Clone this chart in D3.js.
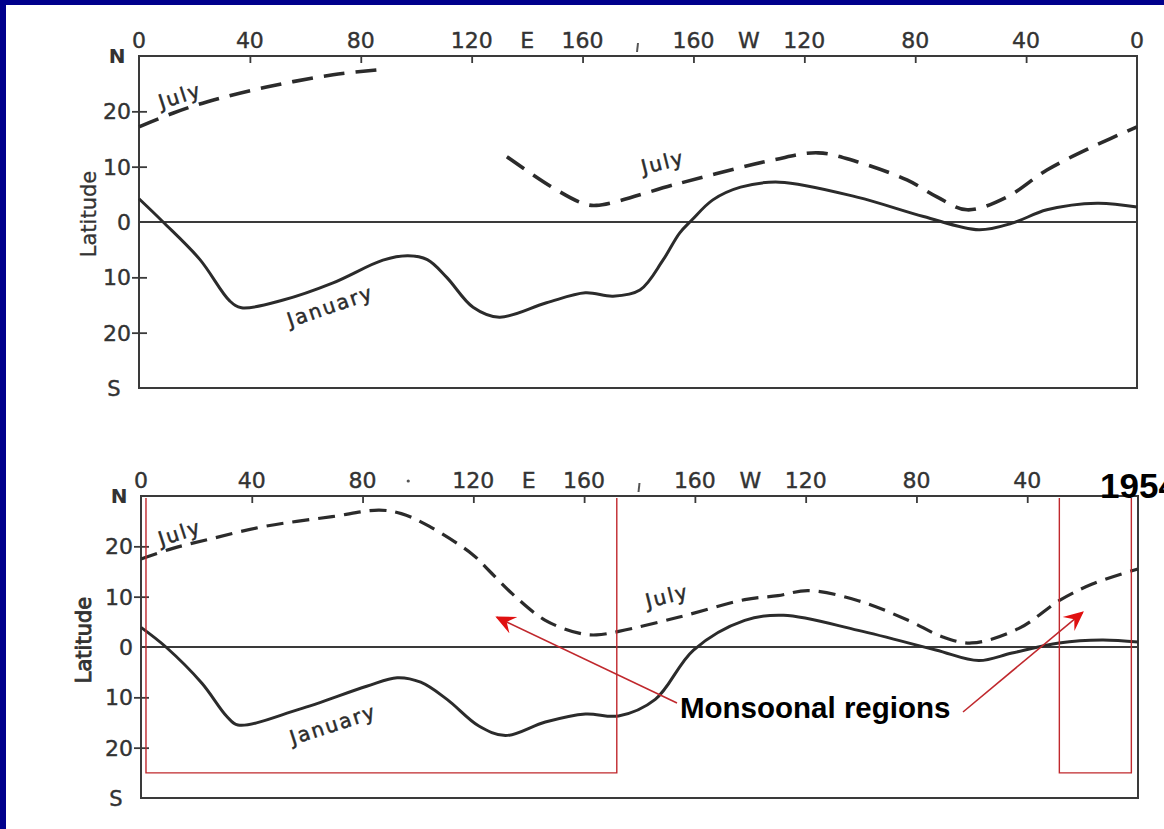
<!DOCTYPE html>
<html>
<head>
<meta charset="utf-8">
<script src="https://cdn.jsdelivr.net/npm/d3@7"></script>
<style>
  body { margin: 0; background: #00008c; }
  svg { display: block; }
</style>
</head>
<body>
<div id="chart"></div>
<script>
// ITCZ position, January vs July (two versions of the same figure)

// axis values
var lonTicks = [40, 80, 120, 160, 200, 240, 280, 320];
var lonLabelPos = [0, 40, 80, 120, 140, 160, 200, 220, 240, 280, 320, 360];
var lonLabelText = ["0", "40", "80", "120", "E", "160", "160", "W", "120", "80", "40", "0"];
var latTicks = [20, 10, -10, -20];
var latLabelPos = [20, 10, 0, -10, -20];

// upper figure: [longitude east of Greenwich, latitude]
var janTop = [[0, 4.2], [8.7, 0], [22, -6.8], [32.8, -14.3], [37, -15.5],
  [52, -14.1], [70, -11], [88, -6.9], [97, -6.1], [104, -6.8], [111, -10], [120.5, -15.4],
  [130, -17.2], [147, -14.6], [161, -12.8], [171, -13.4], [180.7, -12.3], [189, -6.9],
  [195, -2], [199.5, 0.4], [207, 4], [217, 6.3], [231, 7.2], [259, 4.5], [283, 1],
  [303, -1.4], [315, -0.2], [327.5, 2.2], [345.6, 3.4], [360, 2.7]];
var julTopA = [[0, 17.2], [12.4, 19.7], [24.4, 21.7], [46, 24.4], [70, 26.6], [86, 27.5]];
var julTopB = [[132.7, 11.8], [149, 6.3], [160, 3.4], [165, 3], [195, 7], [228.7, 11.2],
  [245, 12.5], [259, 10.9], [277, 7.6], [288, 4.5], [298.7, 2.2], [313, 4.5],
  [327.5, 9.4], [344, 13.6], [360, 17.2]];

// lower figure
var janBot = [[0, 3.9], [9, 0], [22, -7.2], [31, -13.8], [35, -15.5], [57, -12.4],
  [81.5, -7.8], [92.5, -6.1], [101, -7], [110.5, -10.4], [122, -15.7], [131.6, -17.6],
  [146, -14.9], [160.5, -13.3], [172.4, -13.7], [185.7, -10.4], [199.5, -0.6], [218, 5.3],
  [232, 6.3], [259, 3.3], [287, -0.6], [302.5, -2.7], [314.5, -1.2], [331.5, 0.8],
  [347, 1.4], [360, 1.0]];
var julBot = [[0, 17.5], [11.5, 19.6], [26, 21.6], [45, 24], [69, 25.9], [86, 27.2],
  [94, 26.5], [104, 24], [119.7, 18.4], [125.8, 15.1], [134, 10.6], [146, 5.3],
  [158.5, 2.7], [164.5, 2.4], [172.5, 3.1], [194, 5.9], [218, 9.4], [230, 10.2],
  [241, 11.2], [259, 9.2], [277, 5.3], [289.5, 2], [300, 0.8], [317, 3.7],
  [331.5, 9.2], [343.5, 12.5], [360, 15.5]];

// monsoonal regions (lon ranges, lower latitude edge)
var monsoonBoxes = [[1.8, 171.8], [331.6, 357.6]];
var monsoonFloor = -25;
var arrowTips = [[128.5, 5.9], [340, 6.9]];

var W = 1164, H = 829;
var ink = "#2b2b2b";

var svg = d3.select("#chart").append("svg")
  .attr("width", W)
  .attr("height", H);

svg.append("rect")
  .attr("x", 6).attr("y", 5)
  .attr("width", W - 6).attr("height", H - 5)
  .attr("fill", "#ffffff");

function drawPanel (p) {
  var x = d3.scaleLinear().domain([0, 360]).range([p.x0, p.x1]);
  var y = d3.scaleLinear().domain([-30, 30]).range([p.y1, p.y0]);
  var g = svg.append("g");

  // frame
  g.append("rect")
    .attr("x", x(0)).attr("y", y(30))
    .attr("width", x(360) - x(0)).attr("height", y(-30) - y(30))
    .attr("fill", "none").attr("stroke", "#3a3a3a").attr("stroke-width", 2);

  // equator
  g.append("line")
    .attr("x1", x(0)).attr("x2", x(360))
    .attr("y1", y(0)).attr("y2", y(0))
    .attr("stroke", "#3a3a3a").attr("stroke-width", 1.8);

  // longitude ticks pointing inward
  g.append("g")
    .attr("transform", "translate(0," + y(30) + ")")
    .call(d3.axisBottom(x).tickValues(lonTicks).tickSize(7).tickFormat(""))
    .call(function (a) { a.select(".domain").remove(); })
    .selectAll("line").attr("stroke", "#3a3a3a").attr("stroke-width", 1.8);

  // the little mark at the dateline
  g.append("line")
    .attr("x1", x(180)).attr("x2", x(180) - 1)
    .attr("y1", y(30) - 13).attr("y2", y(30) - 4)
    .attr("stroke", "#555").attr("stroke-width", 2);

  var nLon = p.lastLonLabel ? lonLabelPos.length : lonLabelPos.length - 1;
  g.selectAll(".lonlab").data(lonLabelPos.slice(0, nLon))
    .enter().append("text")
      .attr("class", "lonlab")
      .attr("x", function (d) { return x(d); })
      .attr("y", y(30) - 8)
      .attr("text-anchor", "middle")
      .attr("font-family", "DejaVu Sans")
      .attr("font-size", "22px")
      .attr("fill", "#333")
      .attr("stroke", "#333").attr("stroke-width", 0.4)
      .text(function (d, i) { return lonLabelText[i]; });

  // latitude ticks crossing the left edge
  g.append("g")
    .attr("transform", "translate(" + (x(0) - 7) + ",0)")
    .call(d3.axisRight(y).tickValues(latTicks).tickSize(15).tickFormat(""))
    .call(function (a) { a.select(".domain").remove(); })
    .selectAll("line").attr("stroke", "#3a3a3a").attr("stroke-width", 1.8);

  g.selectAll(".latlab").data(latLabelPos)
    .enter().append("text")
      .attr("class", "latlab")
      .attr("x", x(0) - 8)
      .attr("y", function (d) { return y(d); })
      .attr("dy", "0.36em")
      .attr("text-anchor", "end")
      .attr("font-family", "DejaVu Sans")
      .attr("font-size", "22px")
      .attr("fill", "#333")
      .attr("stroke", "#333").attr("stroke-width", 0.4)
      .text(function (d) { return Math.abs(d); });

  g.append("text")
    .attr("x", x(0) - 22).attr("y", y(30) + 7)
    .attr("text-anchor", "middle")
    .attr("font-family", "DejaVu Sans").attr("font-size", "20px")
    .attr("font-weight", "bold")
    .attr("fill", "#333").text("N");
  g.append("text")
    .attr("x", x(0) - 25).attr("y", y(-30) + 8)
    .attr("text-anchor", "middle")
    .attr("font-family", "DejaVu Sans").attr("font-size", "21px")
    .attr("fill", "#333").attr("stroke", "#333").attr("stroke-width", 0.4)
    .text("S");

  g.append("text")
    .attr("transform", "translate(" + p.labX + "," + p.labY + ") rotate(-90)")
    .attr("text-anchor", "middle")
    .attr("font-family", "DejaVu Sans")
    .attr("font-size", "21px")
    .attr("fill", "#333")
    .attr("stroke", "#333").attr("stroke-width", p.labStroke)
    .text("Latitude");

  var line = d3.line()
    .x(function (d) { return x(d[0]); })
    .y(function (d) { return y(d[1]); })
    .curve(d3.curveCatmullRom.alpha(0.5));

  g.selectAll(".jul").data(p.july)
    .enter().append("path")
      .attr("class", "jul")
      .attr("d", line)
      .attr("fill", "none")
      .attr("stroke", ink)
      .attr("stroke-width", p.dashW)
      .attr("stroke-dasharray", p.dash);

  g.append("path")
    .attr("d", line(p.jan))
    .attr("fill", "none")
    .attr("stroke", ink)
    .attr("stroke-width", 3);

  // curve labels
  g.selectAll(".clab").data(p.labels)
    .enter().append("text")
      .attr("class", "clab")
      .attr("transform", function (d) {
        return "translate(" + x(d[0]) + "," + y(d[1]) + ") rotate(" + d[2] + ")";
      })
      .attr("text-anchor", "middle")
      .attr("dy", "0.35em")
      .attr("font-family", "DejaVu Sans")
      .attr("font-size", "20px")
      .attr("letter-spacing", "2px")
      .attr("fill", "#2b2b2b")
      .attr("stroke", "#2b2b2b").attr("stroke-width", 0.5)
      .text(function (d) { return d[3]; });

  return { x: x, y: y };
}

drawPanel({
  x0: 139, x1: 1137, y0: 56, y1: 388,
  labX: 96, labY: 214, labStroke: 0.3,
  lastLonLabel: true,
  jan: janTop, july: [julTopA, julTopB],
  dash: "21,11", dashW: 3.6,
  labels: [[14.8, 22.8, -18, "July"], [189, 10.8, -14, "July"], [69, -15.2, -19, "January"]]
});

var low = drawPanel({
  x0: 141, x1: 1138, y0: 496, y1: 798,
  labX: 91, labY: 640, labStroke: 0.9,
  lastLonLabel: false,
  jan: janBot, july: [julBot],
  dash: "17,9", dashW: 3.2,
  labels: [[14, 22.7, -18, "July"], [190, 10.1, -14, "July"], [69.3, -15.4, -18, "January"]]
});

// stray dot between 80 and 120 on the lower axis
svg.append("circle")
  .attr("cx", low.x(96.5)).attr("cy", 481).attr("r", 1.6).attr("fill", "#555");

// monsoon annotation
var red = "#c0282d";
var bx = low.x, by = low.y;

svg.selectAll(".mbox").data(monsoonBoxes)
  .enter().append("path")
    .attr("class", "mbox")
    .attr("d", function (d) {
      return "M" + bx(d[0]) + "," + (by(30) + 2) +
        "V" + by(monsoonFloor) + "H" + bx(d[1]) + "V" + (by(30) + 2);
    })
    .attr("fill", "none")
    .attr("stroke", red)
    .attr("stroke-width", 1.4);

svg.append("defs").append("marker")
  .attr("id", "head")
  .attr("viewBox", "0 0 12 12")
  .attr("refX", 11).attr("refY", 6)
  .attr("markerWidth", 20).attr("markerHeight", 20)
  .attr("markerUnits", "userSpaceOnUse")
  .attr("orient", "auto")
  .append("path")
    .attr("d", "M0,0.5 L12,6 L0,11.5 L4.5,6 Z")
    .attr("fill", "#e01010");

var textX = 680, textY = 718;
var starts = [[textX - 3, textY - 15], [textX + 283, textY - 6]];

svg.selectAll(".arr").data(arrowTips)
  .enter().append("line")
    .attr("class", "arr")
    .attr("x1", function (d, i) { return starts[i][0]; })
    .attr("y1", function (d, i) { return starts[i][1]; })
    .attr("x2", function (d) { return bx(d[0]); })
    .attr("y2", function (d) { return by(d[1]); })
    .attr("stroke", red)
    .attr("stroke-width", 1.6)
    .attr("marker-end", "url(#head)");

svg.append("text")
  .attr("x", textX).attr("y", textY)
  .attr("font-family", "Liberation Sans, Arial, sans-serif")
  .attr("font-weight", "bold")
  .attr("font-size", "29.5px")
  .attr("fill", "#000")
  .text("Monsoonal regions");

svg.append("text")
  .attr("x", 1100).attr("y", 498)
  .attr("font-family", "Liberation Sans, Arial, sans-serif")
  .attr("font-weight", "bold")
  .attr("font-size", "35px")
  .attr("fill", "#000")
  .text("1954");
</script>
</body>
</html>
